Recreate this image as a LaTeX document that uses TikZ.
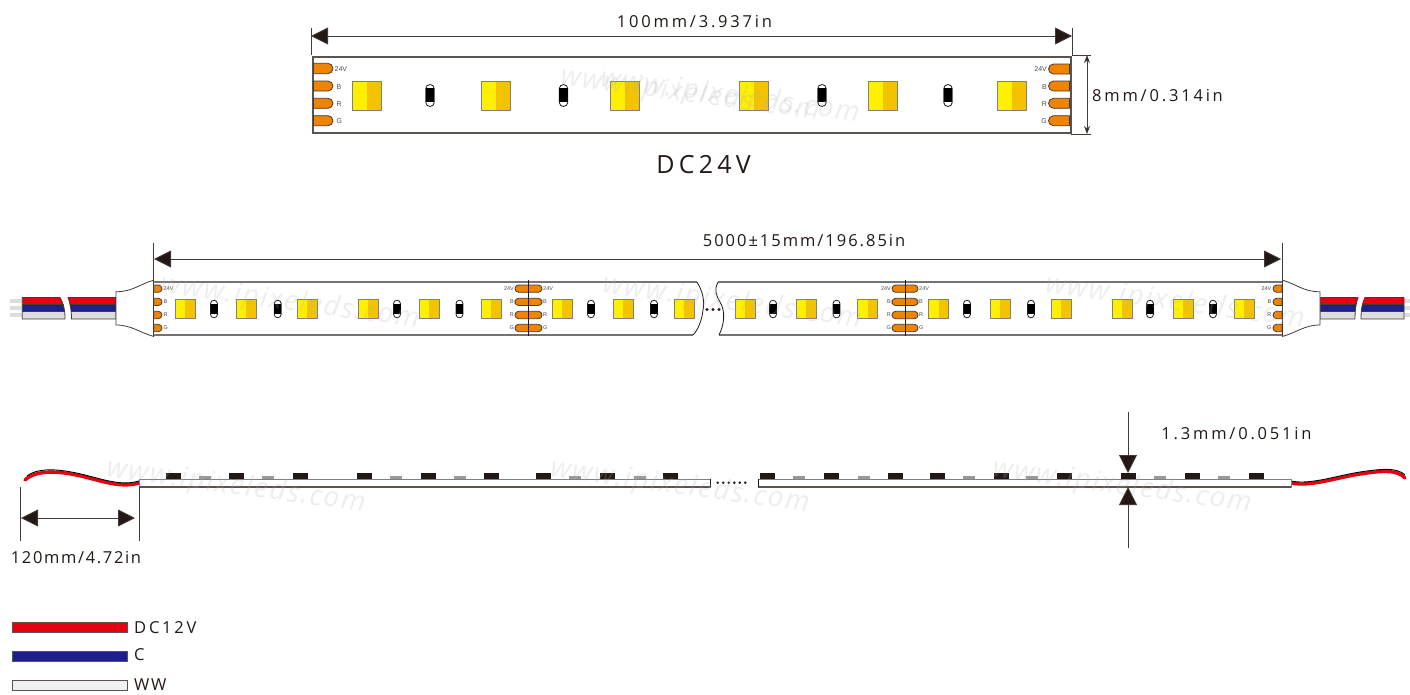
\documentclass[tikz,border=0pt]{standalone}
\usepackage{fontspec}
\usetikzlibrary{arrows.meta}
\setmainfont{Open Sans}
\newfontfamily\dimfont[LetterSpace=17]{Open Sans}
\newfontfamily\dimfontm[LetterSpace=12]{Open Sans}
\newfontfamily\dimfontn[LetterSpace=10]{Open Sans}
\newfontfamily\smallfont{Liberation Sans}
\newfontfamily\wmfont[LetterSpace=6]{Open Sans}
\definecolor{ink}{HTML}{231815}
\definecolor{edge}{HTML}{5A5350}
\definecolor{ledY}{HTML}{FFF000}
\definecolor{ledO}{HTML}{F3C300}
\definecolor{padO}{HTML}{F08300}
\definecolor{wred}{HTML}{E60012}
\definecolor{wblue}{HTML}{1D2088}
\definecolor{wgray}{HTML}{DCDDDD}
\tikzset{
  strip/.style={draw=edge,line width=1.2pt},
  dimline/.style={draw=ink!85,line width=.8pt},
  bigboth/.style={dimline,{Triangle[length=17pt,width=17pt,fill=ink]}-{Triangle[length=17pt,width=17pt,fill=ink]}},
  smallboth/.style={dimline,{Stealth[length=8pt,width=6pt,fill=ink]}-{Stealth[length=8pt,width=6pt,fill=ink]}},
  bighead/.style={dimline,-{Triangle[length=18pt,width=18pt,fill=ink]}},
  dimtext/.style={inner sep=0pt,text=ink,font=\dimfont\fontsize{16.5}{18}\selectfont},
  dimtextm/.style={inner sep=0pt,text=ink,font=\dimfontm\fontsize{16.5}{18}\selectfont},
  dimtextn/.style={inner sep=0pt,text=ink,font=\dimfontn\fontsize{16.5}{18}\selectfont},
  pinlabel/.style={inner sep=0pt,text=black!70,font=\smallfont\fontsize{7}{8}\selectfont},
  pinsmall/.style={inner sep=0pt,text=black!70,font=\smallfont\fontsize{5.5}{6}\selectfont},
  padshape/.style={fill=padO,draw=ink!85,line width=.8pt},
  wm/.style={inner sep=0pt,rotate=-7.6,text=black!30,opacity=.22,font=\wmfont\itshape\fontsize{28}{30}\selectfont},
  chipdark/.style={fill=ink,draw=none},
  chiplight/.style={fill=black!40,draw=none},
}
% LED: x, y, width, height
\newcommand\ledbox[4]{%
  \fill[ledY] (#1,#2) rectangle ({#1+#3/2},{#2+#4});
  \fill[ledO] ({#1+#3/2},#2) rectangle ({#1+#3},{#2+#4});
  \draw[draw=black!50,line width=1pt] (#1,#2) rectangle ({#1+#3},{#2+#4});}
% resistor: centre x, y1, y2, width
\newcommand\resbox[4]{%
  \draw[draw=ink,fill=white,line width=.8pt,rounded corners={#4/2*1pt}] ({#1-#4/2},#2) rectangle ({#1+#4/2},#3);
  \fill[black] ({#1-#4/2},{#2+3.4}) rectangle ({#1+#4/2},{#3-4.2});}
% pad rounded on one end: base x, tip x, y1, y2
\newcommand\padbox[4]{%
  \pgfmathsetmacro\padr{(#4-#3)/2}%
  \pgfmathsetmacro\pads{(#2>#1)?1:-1}%
  \draw[padshape] (#1,#3) -- ({#2-\pads*\padr},#3)
    .. controls ({#2-\pads*.45*\padr},#3) and (#2,{#3+.45*\padr}) .. (#2,{#3+\padr})
    .. controls (#2,{#4-.45*\padr}) and ({#2-\pads*.45*\padr},#4) .. ({#2-\pads*\padr},#4)
    -- (#1,#4) -- cycle;}
% three-colour wire piece, given as closed path
\newcommand\wirepiece[1]{%
  \begin{scope}
    \clip #1;
    \fill[wred] (0,297.5) rectangle (1410,304.5);
    \fill[wblue] (0,304.5) rectangle (1410,311.5);
    \fill[wgray] (0,311.5) rectangle (1410,319);
  \end{scope}
  \draw[draw=ink!85,line width=.8pt] #1;}
\begin{document}
\begin{tikzpicture}[x=1pt,y=-1pt]
\useasboundingbox (0,0) rectangle (1410,694);
\fill[white] (0,0) rectangle (1410,694);

%%% ---------- top: one section
\coordinate (aL) at (311,36);
\coordinate (aR) at (1072,36);
\coordinate (aLt) at (311,28);
\coordinate (aLb) at (311,55);
\coordinate (aRt) at (1072,28);
\coordinate (aRb) at (1072,55);
\coordinate (hT) at (1091,55);
\coordinate (hB) at (1091,134);
\coordinate (hBl) at (1071,134);
\coordinate (vT) at (1087,55);
\coordinate (vB) at (1087,134);
\draw[dimline] (aLt) -- (aLb);
\draw[dimline] (aRt) -- (aRb) -- (hT);
\draw[dimline] (hBl) -- (hB);
\draw[bigboth] (aL) -- (aR);
\draw[smallboth] (vT) -- (vB);
\node[dimtext] (t100) at (694.5,22) {100mm/3.937in};
\node[dimtext,anchor=west] (t8) at (1092,96) {8mm/0.314in};
\node[inner sep=0pt,text=ink,font=\dimfont\fontsize{25}{28}\selectfont] (tdc) at (703.5,165) {DC24V};

\draw[strip,fill=white] (313,57) rectangle (1071,133);
\foreach \x in {352,481,610,739,868,997} {\ledbox{\x}{81}{29.5}{29}}
\foreach \x in {430,563.5,822,948} {\resbox{\x}{84.5}{106.5}{8.5}}
\foreach \ya/\yb in {63.3/73.7,81/91,98.3/108.3,115.7/125.7} {\padbox{313.5}{333}{\ya}{\yb}}
\foreach \ya/\yb in {64/74,81/91,98.3/108.3,115.7/125.7} {\padbox{1069.5}{1048.5}{\ya}{\yb}}
\foreach \y/\t/\n/\xa in {69.5/24V/a/334.5,87.5/B/b/336.5,104.5/R/c/336.5,121.5/G/d/336.5} {
  \node[pinlabel,anchor=west] (pl\n) at (\xa,\y) {\t};
  \node[pinlabel,anchor=east] (pr\n) at (1047,\y) {\t};
}

%%% ---------- middle: whole reel
\coordinate (bL) at (154,259);
\coordinate (bR) at (1281,259);
\coordinate (bLt) at (153.5,243);
\coordinate (bLb) at (153.5,337);
\coordinate (bRt) at (1282,243);
\coordinate (bRb) at (1282,337);
\draw[bigboth] (bL) -- (bR);
\node[dimtextm] (t5000) at (804,241) {5000±15mm/196.85in};

% wires
\foreach \y/\h in {301/3.4,308/4,315.3/4} {
  \fill[wgray] (10,{\y-\h/2}) rectangle (22,{\y+\h/2});
  \fill[wgray] (1404,{\y-\h/2}) rectangle (1410,{\y+\h/2});
}
\wirepiece{(22.3,297.5) -- (60,297.5) .. controls (63,303) and (65,308) .. (65,319) -- (22.3,319) -- cycle}
\wirepiece{(68,297.5) -- (116,297.5) -- (116,319) -- (71.5,319) .. controls (71.5,310) and (70,303) .. (68,297.5) -- cycle}
\wirepiece{(1320,297.5) -- (1358,297.5) .. controls (1356,303) and (1355,310) .. (1355,319) -- (1320,319) -- cycle}
\wirepiece{(1365,297.5) -- (1404,297.5) -- (1404,319) -- (1361,319) .. controls (1361,310) and (1362,303) .. (1365,297.5) -- cycle}
\draw[draw=ink!85,line width=.7pt] (22.3,304.5) -- (64,304.5) (22.3,311.5) -- (65,311.5) (70,304.5) -- (116,304.5) (71,311.5) -- (116,311.5)
  (1320,304.5) -- (1356,304.5) (1320,311.5) -- (1355,311.5) (1363,304.5) -- (1404,304.5) (1361,311.5) -- (1404,311.5);

% strip body with break
\fill[white] (154,282) -- (697,282) .. controls (702,290) and (705,300) .. (703,310) .. controls (702,320) and (698,330) .. (693,335) -- (154,335) -- cycle;
\fill[white] (718,282) -- (1282,282) -- (1282,335) -- (719,335) .. controls (724,325) and (726,312) .. (720,302) .. controls (716,295) and (714,290) .. (718,282) -- cycle;
\draw[draw=black!55,line width=1.2pt] (154,282) -- (697,282) (154,335) -- (693,335) (718,282) -- (1282,282) (719,335) -- (1282,335);
\draw[draw=ink,line width=.8pt] (697,282) .. controls (702,290) and (705,300) .. (703,310) .. controls (702,320) and (698,330) .. (693,335);
\draw[draw=ink,line width=.8pt] (718,282) .. controls (714,290) and (716,295) .. (720,302) .. controls (726,312) and (724,325) .. (719,335);
\foreach \x in {707,713,719} {\fill[ink] (\x,309.5) circle (1.7);}

\foreach \x in {175,236,297,358,419,481,552,613,674,735,796,857.5,928.5,990,1051,1112,1173,1234} {\ledbox{\x}{299}{20}{19.7}}
\foreach \x in {214,277.7,397,459.5,591,654,773,836.5,967,1031,1150,1213} {\resbox{\x}{300.2}{317.8}{7}}

\foreach \ya/\yb in {285/292.3,298.3/305.5,311.3/318.7,324.3/331.7} {
  \padbox{154}{162}{\ya}{\yb}
  \padbox{1282}{1273}{\ya}{\yb}
  \draw[padshape,rounded corners=3.6pt] (515,\ya) rectangle (542,\yb);
  \draw[padshape,rounded corners=3.6pt] (892,\ya) rectangle (918,\yb);
}
\foreach \y/\t/\n in {288.7/24V/a,302/B/b,315/R/c,328/G/d} {
  \node[pinsmall,anchor=west] (el\n) at (163.5,\y) {\t};
  \node[pinsmall,anchor=east] (er\n) at (1271.5,\y) {\t};
  \node[pinsmall,anchor=east] (ma\n) at (514,\y) {\t};
  \node[pinsmall,anchor=west] (mb\n) at (543,\y) {\t};
  \node[pinsmall,anchor=east] (mc\n) at (891,\y) {\t};
  \node[pinsmall,anchor=west] (md\n) at (919,\y) {\t};
}
\coordinate (c1t) at (528,280); \coordinate (c1b) at (528,336);
\coordinate (c2t) at (905,280); \coordinate (c2b) at (905,336);
\draw[draw=ink,line width=.9pt] (c1t) -- (c1b);
\draw[draw=ink,line width=.9pt] (c2t) -- (c2b);

% end caps
\draw[draw=ink!85,fill=white,line width=.8pt] (154,280) .. controls (140,284) and (132,292) .. (116,291.7) -- (116,325) .. controls (132,325) and (140,333) .. (154,336.5);
\draw[draw=ink!85,fill=white,line width=.8pt] (1282,280) .. controls (1296,284) and (1304,292) .. (1320,291.7) -- (1320,325) .. controls (1304,325) and (1296,333) .. (1282,336.5);
\draw[dimline] (bLt) -- (bLb);
\draw[dimline] (bRt) -- (bRb);

%%% ---------- bottom: side view
\draw[draw=wred,line width=3.4pt,line cap=round] (139,483) .. controls (122,488) and (105,482) .. (85,477) .. controls (65,472) and (38,468) .. (25,480);
\draw[draw=black,line width=.9pt] (139,481) .. controls (122,486) and (105,480) .. (85,475) .. controls (65,470) and (40,466) .. (27,476);
\draw[draw=wred,line width=3.4pt,line cap=round] (1291,483) .. controls (1310,487) and (1335,478) .. (1360,474) .. controls (1380,471) and (1397,469) .. (1405,478);
\draw[draw=black,line width=.9pt] (1291,481) .. controls (1310,485) and (1335,476) .. (1360,472) .. controls (1380,469) and (1397,467) .. (1405,475);

\foreach \x in {199,262,390,454,569,634,793,858,963,1026,1154,1218} {\fill[chiplight] (\x,476.2) rectangle ({\x+12},479);}
\foreach \x in {166,229,292.5,357,421,484,536,600,663,760,824,888,930,994,1057,1121,1185,1249} {\fill[chipdark] (\x,473) rectangle ({\x+15},479);}
\draw[draw=black!50,fill=white,line width=1pt] (139,479) -- (710,479) -- (710,487) -- (139,487) -- cycle;
\draw[draw=black!50,fill=white,line width=1pt] (758,479) -- (1291,479) -- (1291,487) -- (758,487) -- cycle;
\draw[draw=edge,line width=1.2pt] (139,487) -- (710,487) (758,487) -- (1291,487);
\draw[draw=ink,line width=.7pt] (710,479) -- (710,487) (758,479) -- (758,487);
\foreach \x in {717.7,723.2,728.7,734.3,739.8,745.3} {\fill[ink] (\x,482.7) circle (1.4);}

\coordinate (cLt) at (20,487); \coordinate (cLb) at (20,541);
\coordinate (cRt) at (139,487); \coordinate (cRb) at (139,541);
\coordinate (cL) at (21,518); \coordinate (cR) at (135,518);
\draw[dimline] (cLt) -- (cLb);
\draw[dimline] (cRt) -- (cRb);
\draw[bigboth] (cL) -- (cR);
\node[dimtextn] (t120) at (76,558) {120mm/4.72in};

\coordinate (dT) at (1128,412); \coordinate (dA) at (1128,473);
\coordinate (dB) at (1128,548); \coordinate (dC) at (1128,487);
\draw[bighead] (dT) -- (dA);
\draw[bighead] (dB) -- (dC);
\node[dimtext] (t13) at (1236.5,434) {1.3mm/0.051in};

%%% ---------- legend
\draw[draw=edge,fill=wred,line width=.9pt] (12,622.5) rectangle (127,632.5);
\draw[draw=edge,fill=wblue,line width=.9pt] (12,651) rectangle (127,661);
\draw[draw=edge,fill=wgray!45,line width=.9pt] (12,680) rectangle (127,690);
\node[dimtext,anchor=west] (kred) at (134,628) {DC12V};
\node[dimtextn,anchor=west] (kblue) at (134,655) {C};
\node[dimtextn,anchor=west] (kww) at (134,685) {WW};

%%% ---------- watermarks
\node[wm] (w1) at (690,95) {www.ipixeleds.com};
\node[wm] (w2) at (730,97) {www.ipixeleds.com};
\node[wm] (w3) at (290,303) {www.ipixeleds.com};
\node[wm] (w4) at (732,303) {www.ipixeleds.com};
\node[wm] (w5) at (1175,303) {www.ipixeleds.com};
\node[wm] (w6) at (236,487) {www.ipixeleds.com};
\node[wm] (w7) at (680,487) {www.ipixeleds.com};
\node[wm] (w8) at (1122,487) {www.ipixeleds.com};
\end{tikzpicture}
\end{document}
